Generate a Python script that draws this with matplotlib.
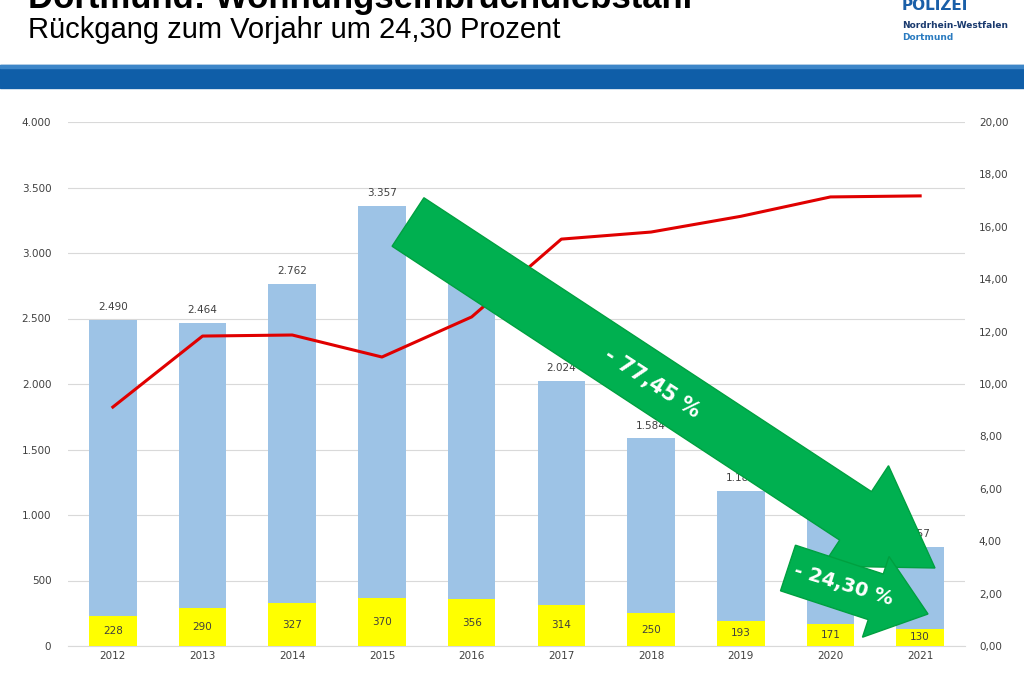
import matplotlib
matplotlib.use("Agg")
import matplotlib.pyplot as plt
from matplotlib.patches import FancyArrow, Rectangle
from matplotlib.transforms import IdentityTransform

years = ["2012","2013","2014","2015","2016","2017","2018","2019","2020","2021"]
total = [2490,2464,2762,3357,2844,2024,1584,1181,1000,757]
attempts = [228,290,327,370,356,314,250,193,171,130]
rate = [9.12,11.83,11.87,11.03,12.56,15.53,15.8,16.4,17.14,17.18]

W, H = 1024, 681
fig = plt.figure(figsize=(W/100, H/100), dpi=100)
fig.patch.set_facecolor("white")

def fx(px): return px / W
def fy(py): return 1 - py / H

# header
fig.text(fx(28), fy(8), "Dortmund: Wohnungseinbruchdiebstahl", fontsize=25, fontweight="bold",
         family="Liberation Sans", va="baseline", ha="left")
fig.text(fx(28), fy(30), "Rückgang zum Vorjahr um 24,30 Prozent", fontsize=21,
         family="Liberation Sans", va="center", ha="left")
fig.text(fx(902), fy(26), "Nordrhein-Westfalen", fontsize=6.5, fontweight="bold", color="#1a3a6e", va="center")
fig.text(fx(902), fy(38), "Dortmund", fontsize=6.5, fontweight="bold", color="#2a7bc0", va="center")
fig.text(fx(902), fy(5), "POLIZEI", fontsize=11, fontweight="bold", color="#1a5fa8", va="center")
fig.add_artist(Rectangle((0, fy(88)), 1, (88-65)/H, transform=fig.transFigure, color="#0f5ea8"))
fig.add_artist(Rectangle((0, fy(68)), 1, 3/H, transform=fig.transFigure, color="#3d86c8"))

ax = fig.add_axes([fx(68), fy(646), fx(965-68), (646-122)/H])
x = range(len(years))
ax.bar(x, total, width=0.53, color="#9dc3e6", zorder=2)
ax.bar(x, attempts, width=0.53, color="#ffff00", zorder=3)
for i in x:
    ax.text(i, total[i] + 60, f"{total[i]:,}".replace(",", "."), ha="center", va="bottom", fontsize=7.5, color="#404040")
    ax.text(i, attempts[i] / 2, str(attempts[i]), ha="center", va="center", fontsize=7.5, color="#404040", zorder=4)
ax.set_xlim(-0.5, 9.5)
ax.set_ylim(0, 4000)
ax.set_yticks(range(0, 4001, 500))
ax.set_yticklabels([f"{v:,}".replace(",", ".") for v in range(0, 4001, 500)])
ax.set_xticks(list(x))
ax.set_xticklabels(years)
ax.grid(axis="y", color="#d9d9d9", lw=0.8, zorder=0)
for s in ["top", "right", "left"]:
    ax.spines[s].set_visible(False)
ax.spines["bottom"].set_color("#d9d9d9")
ax.tick_params(length=0, labelsize=7.5, colors="#404040")
ax.tick_params(axis="y", pad=12)

ax2 = ax.twinx()
ax2.plot(list(x), rate, color="#e00000", lw=2.2, zorder=5)
ax2.set_ylim(0, 20)
ax2.set_yticks(range(0, 21, 2))
ax2.set_yticklabels([f"{v},00" for v in range(0, 21, 2)])
for s in ["top", "right", "left", "bottom"]:
    ax2.spines[s].set_visible(False)
ax2.tick_params(length=0, labelsize=7.5, colors="#404040", pad=10)

# arrows in pixel coordinates (top-left origin converted)
def arrow(x0, y0, x1, y1, w, hw, hl):
    a = FancyArrow(x0, H - y0, x1 - x0, -(y1 - y0), width=w, head_width=hw,
                   head_length=hl, length_includes_head=True, transform=IdentityTransform(),
                   facecolor="#00b050", edgecolor="#00a040", zorder=10)
    fig.add_artist(a)

arrow(408, 222, 935, 568, 58, 120, 95)
fig.text(fx(652), fy(383), "- 77,45 %", fontsize=15, fontweight="bold", color="white",
         rotation=-33, ha="center", va="center", zorder=11)
arrow(788, 568, 928, 614, 48, 85, 55)
fig.text(fx(843), fy(585), "- 24,30 %", fontsize=14, fontweight="bold", color="white",
         rotation=-17, ha="center", va="center", zorder=11)

fig.savefig("out.png", dpi=100)
